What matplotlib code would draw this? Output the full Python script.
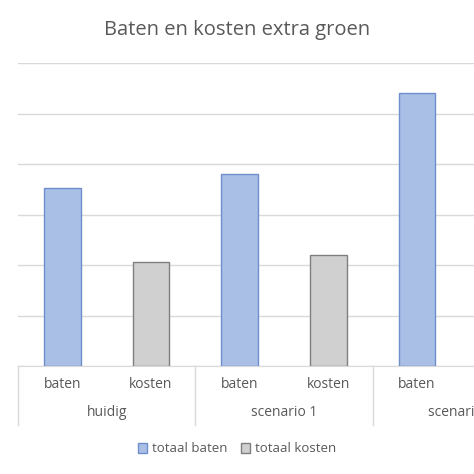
import matplotlib
matplotlib.use("Agg")
import matplotlib.pyplot as plt
from matplotlib.patches import Patch
import matplotlib.transforms as mtrans

plt.rcParams['font.family'] = ['Open Sans', 'DejaVu Sans']

groups = ["huidig", "scenario 1", "scenario 2"]
subcats = ["baten", "kosten"]
baten = [3.52, 3.8, 5.4]
kosten = [2.06, 2.2, 2.5]

fig = plt.figure(figsize=(4.74, 4.74), dpi=100)
ax = fig.add_axes([18/474, 1-366/474, 532/474, (366-63)/474])
txt = '#595959'
xs_b = [2*i for i in range(3)]
xs_k = [2*i+1 for i in range(3)]
ax.bar(xs_b, baten, width=0.41, color='#a9bfe6', edgecolor='#6f8fcc', linewidth=1, zorder=3)
ax.bar(xs_k, kosten, width=0.41, color='#d0d0d0', edgecolor='#7f7f7f', linewidth=1, zorder=3)
ax.set_xlim(-0.5, 5.5)
ax.set_ylim(0, 6)
ax.set_yticks(range(7))
ax.yaxis.grid(True, color='#d9d9d9', linewidth=1)
ax.tick_params(left=False, labelleft=False, bottom=False, labelbottom=False)
for s in ['left', 'right', 'top']:
    ax.spines[s].set_visible(False)
ax.spines['bottom'].set_color('#d9d9d9')

tr = mtrans.blended_transform_factory(ax.transData, fig.transFigure)
for i in range(6):
    ax.text(i, 1-384/474, subcats[i % 2], transform=tr, ha='center', va='center', fontsize=10, color=txt, clip_on=False)
for g, name in enumerate(groups):
    ax.text(2*g+0.5, 1-413/474, name, transform=tr, ha='center', va='center', fontsize=10, color=txt, clip_on=False)
for x in [-0.5, 1.5, 3.5, 5.5]:
    ax.plot([x, x], [1-366/474, 1-425/474], transform=tr, color='#d9d9d9', linewidth=1, clip_on=False)

fig.text(237/474, 1-30/474, "Baten en kosten extra groen", ha='center', va='center', fontsize=14.5, color=txt)
fig.legend(handles=[Patch(facecolor='#a9bfe6', edgecolor='#6f8fcc', label='totaal baten'),
                    Patch(facecolor='#d0d0d0', edgecolor='#7f7f7f', label='totaal kosten')],
           loc='center', bbox_to_anchor=(237/474, 1-449/474), ncol=2, frameon=False,
           fontsize=9.5, labelcolor=txt, handlelength=0.7, handleheight=0.7, columnspacing=1.0, handletextpad=0.4)
fig.savefig("out.png", dpi=100)
